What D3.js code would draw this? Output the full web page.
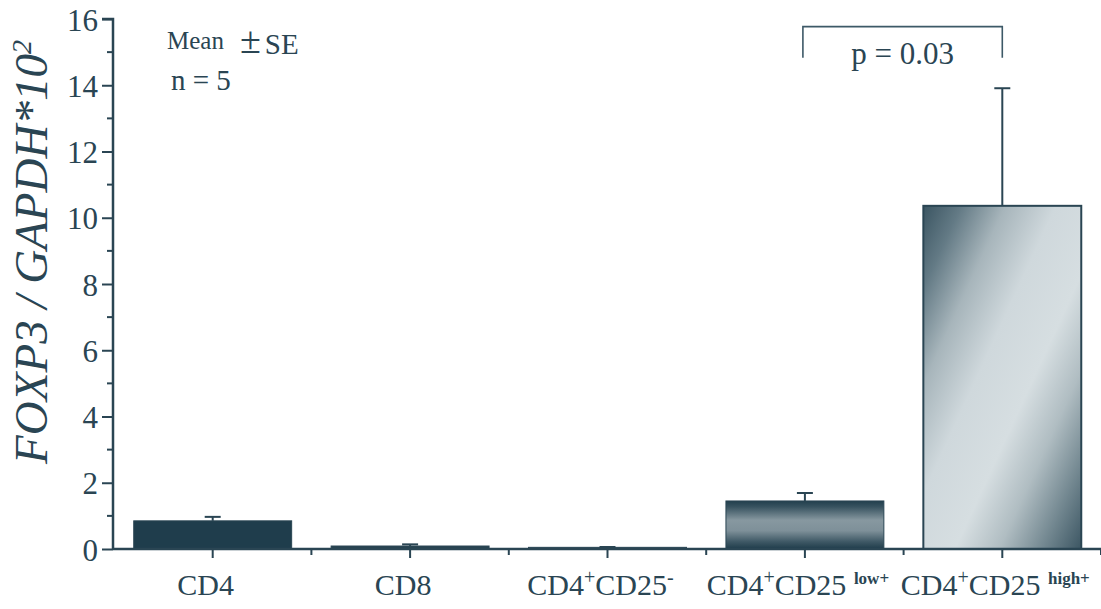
<!DOCTYPE html>
<html>
<head>
<meta charset="utf-8">
<script src="https://cdn.jsdelivr.net/npm/d3@7"></script>
<style>
  html, body { margin: 0; padding: 0; background: #ffffff; }
  svg { display: block; }
  text { font-family: "Liberation Serif", "Times New Roman", serif; fill: #2a4553; }
</style>
</head>
<body>
<svg id="chart" width="1101" height="609"></svg>
<script>
// FOXP3 expression per sorted T-cell subset (mean ± SE, n = 5)
const categories = ["CD4", "CD8", "CD4+CD25-", "CD4+CD25low+", "CD4+CD25high+"];
const means = [0.85, 0.09, 0.05, 1.45, 10.36];
const errors = [0.12, 0.05, 0.01, 0.24, 3.55];
const yTicks = [0, 2, 4, 6, 8, 10, 12, 14, 16];
const yMinorTicks = [1, 3, 5, 7, 9, 11, 13, 15];
// label pieces: [text, is superscript]
const xLabelParts = [
  [["CD4", false]],
  [["CD8", false]],
  [["CD4", false], ["+", true], ["CD25", false], ["-", true]],
  [["CD4", false], ["+", true], ["CD25 ", false], ["low+", true]],
  [["CD4", false], ["+", true], ["CD25 ", false], ["high+", true]]
];
const comparison = { from: "CD4+CD25low+", to: "CD4+CD25high+", label: "p = 0.03", top: 15.77, leg: 14.83 };

const ink = "#2a4553";
const svg = d3.select("#chart");

const x = d3.scaleBand().domain(categories).range([114, 1101]).paddingInner(0.2).paddingOuter(0.1);
const y = d3.scaleLinear().domain([0, 16]).range([549, 19]);

// fills
const defs = svg.append("defs");
const gLow = defs.append("linearGradient").attr("id", "fillLow")
  .attr("x1", 0).attr("y1", 0).attr("x2", 0).attr("y2", 1);
[[0, "#223f4d"], [0.12, "#37525f"], [0.4, "#8798a0"], [0.62, "#7e9099"], [0.85, "#3e5865"], [1, "#1f3c4a"]]
  .forEach(([o, c]) => gLow.append("stop").attr("offset", o).attr("stop-color", c));
const gHigh = defs.append("linearGradient").attr("id", "fillHigh")
  .attr("x1", 0).attr("y1", 0).attr("x2", 1).attr("y2", 1);
[[0, "#3b5562"], [0.12, "#637a85"], [0.26, "#a7b5bb"], [0.42, "#cfd8dc"], [0.6, "#d6dee1"], [0.74, "#b0bdc2"], [0.88, "#71868f"], [1, "#3c5663"]]
  .forEach(([o, c]) => gHigh.append("stop").attr("offset", o).attr("stop-color", c));

const fills = ["#1f3d4c", "#27434f", "#2f4b58", "url(#fillLow)", "url(#fillHigh)"];

// bars
svg.append("g").selectAll("rect").data(categories).join("rect")
  .attr("x", d => x(d))
  .attr("y", (d, i) => y(means[i]))
  .attr("width", x.bandwidth())
  .attr("height", (d, i) => y(0) - y(means[i]))
  .attr("fill", (d, i) => fills[i])
  .attr("stroke", ink)
  .attr("stroke-width", (d, i) => i === 4 ? 2 : 1);

// error bars
const eb = svg.append("g").attr("stroke", ink).attr("stroke-width", 2);
categories.forEach((c, i) => {
  const cx = x(c) + x.bandwidth() / 2;
  eb.append("line").attr("x1", cx).attr("x2", cx).attr("y1", y(means[i])).attr("y2", y(means[i] + errors[i]));
  eb.append("line").attr("x1", cx - 8).attr("x2", cx + 8).attr("y1", y(means[i] + errors[i])).attr("y2", y(means[i] + errors[i]));
});

// y axis
const yAxis = svg.append("g").attr("transform", "translate(113,0)")
  .call(d3.axisLeft(y).tickValues(yTicks).tickSize(11).tickPadding(4).tickFormat(d3.format("d")));
yAxis.select(".domain").attr("stroke", ink).attr("stroke-width", 2.5).attr("d", `M-11,${y(16)}H0V${y(0)}`);
yAxis.selectAll(".tick line").attr("stroke", ink).attr("stroke-width", 2);
yAxis.selectAll(".tick text").attr("font-size", 31).attr("fill", ink)
  .style("font-family", "'Liberation Serif', serif").attr("dy", "0.36em");
svg.append("g").selectAll("line").data(yMinorTicks).join("line")
  .attr("x1", 107).attr("x2", 113).attr("y1", d => y(d)).attr("y2", d => y(d))
  .attr("stroke", ink).attr("stroke-width", 2);

// x axis
const xg = svg.append("g").attr("transform", `translate(0,${y(0)})`);
xg.append("line").attr("x1", 113).attr("x2", 1101).attr("y1", 0).attr("y2", 0)
  .attr("stroke", ink).attr("stroke-width", 2.5);
const step = x.step();
const bounds = d3.range(1, categories.length + 1).map(k => 114 + k * step);
xg.selectAll(".bt").data(bounds).join("line").attr("class", "bt")
  .attr("x1", d => d).attr("x2", d => d).attr("y1", 0).attr("y2", 6)
  .attr("stroke", ink).attr("stroke-width", 2);
xg.selectAll(".ct").data(categories).join("line").attr("class", "ct")
  .attr("x1", d => x(d) + x.bandwidth() / 2).attr("x2", d => x(d) + x.bandwidth() / 2)
  .attr("y1", 0).attr("y2", 9).attr("stroke", ink).attr("stroke-width", 2);

// category labels
categories.forEach((c, i) => {
  const t = svg.append("text")
    .attr("x", x(c) + x.bandwidth() / 2 - 7).attr("y", 595)
    .attr("text-anchor", "middle").attr("font-size", 30);
  let raised = false;
  xLabelParts[i].forEach(([s, sup]) => {
    const ts = t.append("tspan").text(s);
    if (sup && !raised) {
      ts.attr("dy", -11).attr("font-size", s.length > 1 ? 17 : 20);
      if (s.length > 1) ts.attr("font-weight", "bold");
      raised = true;
    } else if (!sup && raised) { ts.attr("dy", 11); raised = false; }
  });
});

// y axis title
const yt = svg.append("text")
  .attr("transform", `translate(47,252) rotate(-90)`)
  .attr("text-anchor", "middle").attr("font-size", 47).attr("font-style", "italic");
yt.append("tspan").text("FOXP3 / GAPDH*10");
yt.append("tspan").text("2").attr("font-size", 28).attr("dy", -16);

// annotation
const ann = svg.append("text").attr("x", 167).attr("y", 49);
ann.append("tspan").attr("font-size", 25).text("Mean");
ann.append("tspan").attr("font-size", 38).attr("dx", 16).attr("dy", 4).text("±");
ann.append("tspan").attr("font-size", 29).attr("dx", 4).attr("dy", 1).text("SE");
svg.append("text").attr("x", 171).attr("y", 90).attr("font-size", 29).text("n = 5");

// significance bracket
const bx1 = x(comparison.from) + x.bandwidth() / 2 - 2;
const bx2 = x(comparison.to) + x.bandwidth() / 2;
svg.append("path")
  .attr("d", `M${bx1},${y(comparison.leg)}V${y(comparison.top)}H${bx2}V${y(comparison.leg)}`)
  .attr("fill", "none").attr("stroke", "#3d5967").attr("stroke-width", 1.6);
svg.append("text").attr("x", (bx1 + bx2) / 2).attr("y", 64)
  .attr("text-anchor", "middle").attr("font-size", 31).text(comparison.label);
</script>
</body>
</html>
